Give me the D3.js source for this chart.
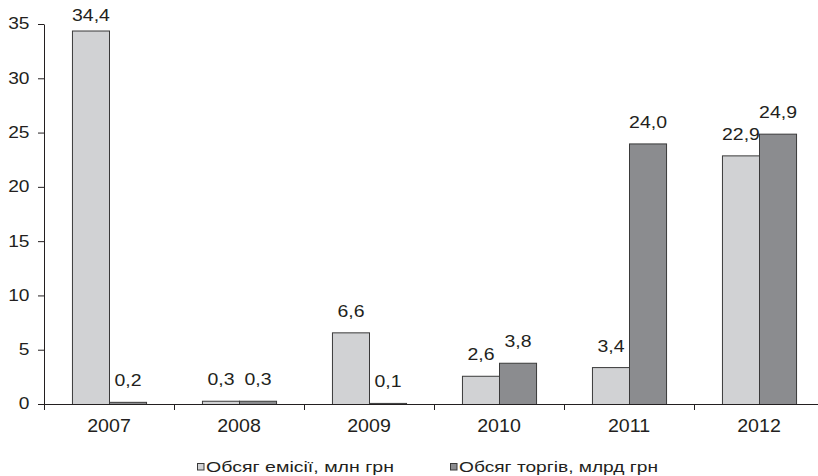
<!DOCTYPE html>
<html>
<head>
<meta charset="utf-8">
<script src="https://cdn.jsdelivr.net/npm/d3@7"></script>
<style>
  html, body { margin: 0; padding: 0; background: #fff; }
  svg { display: block; font-family: "Liberation Sans", Arial, sans-serif; }
</style>
</head>
<body>
<svg id="chart" width="818" height="476"></svg>
<script>
// Years on the category axis
const years = ["2007", "2008", "2009", "2010", "2011", "2012"];
// Issue volume, UAH million
const emission = [34.4, 0.3, 6.6, 2.6, 3.4, 22.9];
// Trading volume, UAH billion
const trading = [0.2, 0.3, 0.1, 3.8, 24.0, 24.9];
const seriesNames = ["Обсяг емісії, млн грн", "Обсяг торгів, млрд грн"];
const yTicks = [0, 5, 10, 15, 20, 25, 30, 35];

const colors = ["#d1d2d4", "#8b8c8f"];
const ink = "#231f20";

const svg = d3.select("#chart");
const plotLeft = 44, plotRight = 824, plotTop = 24, plotBottom = 404;

const x0 = d3.scaleBand().domain(years).range([plotLeft, plotRight])
  .paddingInner(0.43).paddingOuter(0.215);
const x1 = d3.scaleBand().domain([0, 1]).range([0, x0.bandwidth()]);
const y = d3.scaleLinear().domain([0, 35]).range([plotBottom, plotTop]);
const xb = d3.scaleLinear().domain([0, years.length]).range([plotLeft, plotRight]);

const fmt = v => d3.format(".1f")(v).replace(".", ",");

const rows = years.map((yr, i) => ({ year: yr, values: [emission[i], trading[i]] }));

// Bars
const groups = svg.append("g").selectAll("g").data(rows).join("g")
  .attr("transform", d => `translate(${x0(d.year)},0)`);

groups.selectAll("rect").data(d => d.values.map((v, s) => ({ v, s }))).join("rect")
  .attr("x", d => x1(d.s) + 0.5)
  .attr("y", d => y(d.v) + 0.5)
  .attr("width", x1.bandwidth())
  .attr("height", d => Math.max(0, y(0) - y(d.v)))
  .attr("fill", d => colors[d.s])
  .attr("stroke", "#3a3a3a")
  .attr("stroke-width", 1);

// Value labels
groups.selectAll("text").data(d => d.values.map((v, s) => ({ v, s }))).join("text")
  .attr("text-anchor", "middle")
  .attr("font-size", 16.5)
  .attr("fill", ink)
  .attr("transform", d => {
    const cx = x1(d.s) + x1.bandwidth() / 2 + 0.5;
    const by = Math.max(y(d.v) - 15.5, 20.5);
    return `translate(${cx},${by}) scale(1.18,1)`;
  })
  .text(d => fmt(d.v));

// Y axis
const yAxis = svg.append("g").attr("transform", `translate(${plotLeft},0)`)
  .call(d3.axisLeft(y).tickValues(yTicks).tickSize(6).tickSizeOuter(0).tickFormat(d3.format("d")));
yAxis.selectAll("path, line").attr("stroke", ink);
yAxis.selectAll("text")
  .attr("x", 0).attr("dy", "0.29em")
  .attr("font-size", 17).attr("font-family", "Liberation Sans, Arial, sans-serif")
  .attr("fill", ink)
  .attr("transform", "translate(-14.5,0) scale(1.13,1)");

// X axis: category labels
const xAxis = svg.append("g").attr("transform", `translate(0,${plotBottom})`)
  .call(d3.axisBottom(x0).tickSize(0).tickSizeOuter(0));
xAxis.select(".domain").attr("stroke", ink);
xAxis.selectAll("text")
  .attr("y", 0).attr("dy", 0)
  .attr("font-size", 18.5).attr("font-family", "Liberation Sans, Arial, sans-serif")
  .attr("fill", ink)
  .attr("transform", "translate(0,27.5) scale(1.06,1)");

// X axis: boundary tick marks between categories
const xTicks = svg.append("g").attr("transform", `translate(0,${plotBottom})`)
  .call(d3.axisBottom(xb).tickValues(d3.range(years.length + 1)).tickSize(6).tickFormat(""));
xTicks.select(".domain").remove();
xTicks.selectAll("line").attr("stroke", ink);

// Legend
const legendItems = [
  { name: seriesNames[0], color: colors[0], x: 197, len: 188 },
  { name: seriesNames[1], color: colors[1], x: 450, len: 199 }
];
const lg = svg.append("g").selectAll("g").data(legendItems).join("g")
  .attr("transform", d => `translate(${d.x},463)`);
lg.append("rect")
  .attr("x", 0.5).attr("y", 0.5).attr("width", 6.5).attr("height", 6.5)
  .attr("fill", d => d.color).attr("stroke", "#3a3a3a").attr("stroke-width", 1);
lg.append("text")
  .attr("x", 9).attr("y", 9)
  .attr("font-size", 15.5).attr("fill", ink)
  .attr("textLength", d => d.len).attr("lengthAdjust", "spacingAndGlyphs")
  .text(d => d.name);
</script>
</body>
</html>
